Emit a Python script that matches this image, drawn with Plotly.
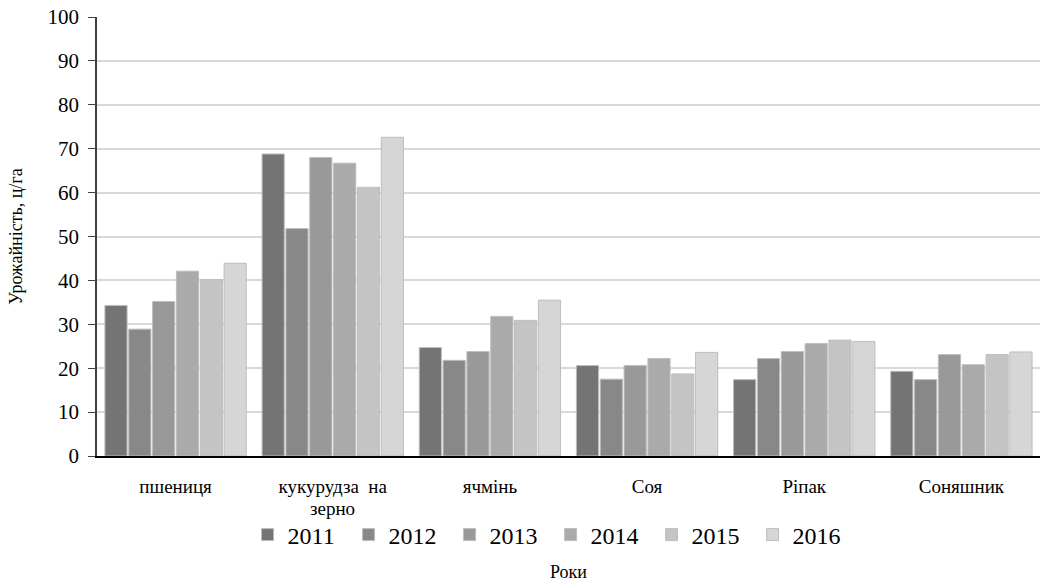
import plotly.graph_objects as go

categories = ["пшениця", "кукурудза  на", "ячмінь", "Соя", "Ріпак", "Соняшник"]
category_second_line = {"кукурудза  на": "зерно"}
years = ["2011", "2012", "2013", "2014", "2015", "2016"]
values = {
    "2011": [34.3, 68.8, 24.7, 20.6, 17.4, 19.3],
    "2012": [28.9, 51.8, 21.8, 17.5, 22.2, 17.4],
    "2013": [35.2, 68.0, 23.8, 20.6, 23.8, 23.1],
    "2014": [42.1, 66.7, 31.8, 22.2, 25.6, 20.8],
    "2015": [40.2, 61.2, 30.9, 18.7, 26.4, 23.1],
    "2016": [43.9, 72.6, 35.5, 23.6, 26.1, 23.7],
}
colors = ["#747474", "#888888", "#999999", "#aaaaaa", "#c4c4c4", "#d6d6d6"]

font = "Liberation Serif, Times New Roman, serif"

fig = go.Figure()
for y, c in zip(years, colors):
    fig.add_trace(go.Bar(
        name=y, x=categories, y=values[y],
        marker=dict(color=c, line=dict(color="#bdbdbd", width=1)),
    ))

for cat, txt in category_second_line.items():
    fig.add_annotation(x=cat, xref="x", y=-0.12, yref="paper", yanchor="middle",
                       text=txt, showarrow=False, font=dict(size=19))

fig.update_layout(
    width=1040, height=584,
    barmode="group", bargap=0.09, bargroupgap=0.07,
    plot_bgcolor="white", paper_bgcolor="white",
    margin=dict(l=97, r=0, t=17, b=128, autoexpand=False),
    font=dict(family=font, size=19, color="black"),
    showlegend=True,
    legend=dict(orientation="h", x=0.481, xanchor="center", y=-0.18, yanchor="middle",
                font=dict(size=24), entrywidth=56, itemwidth=30),
    xaxis=dict(
        showline=True, linecolor="black", linewidth=1.5,
        ticks="", tickfont=dict(size=19), ticklabelstandoff=12,
        title=dict(text="Роки", font=dict(size=18), standoff=70),
    ),
    yaxis=dict(
        range=[0, 100], dtick=10, showline=True, linecolor="#404040", linewidth=1.5,
        ticks="outside", ticklen=7, tickcolor="#404040",
        showgrid=True, gridcolor="#d9d9d9", gridwidth=1.5,
        tickfont=dict(size=21), ticklabelstandoff=5,
        title=dict(text="Урожайність, ц/га", font=dict(size=18), standoff=20),
        zeroline=False,
    ),
)

fig.write_html("out.html", config={"displayModeBar": False},
               post_script="document.body.style.margin='0';document.body.style.overflow='hidden';")
